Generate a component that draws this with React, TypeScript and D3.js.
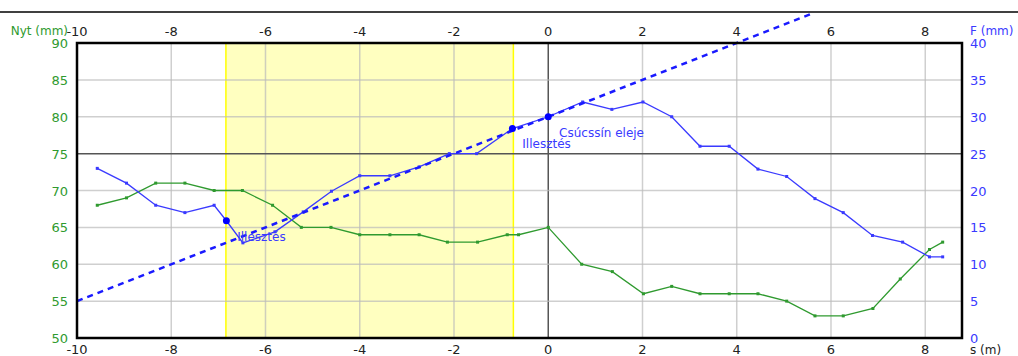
import React, { useEffect, useRef } from 'react';
import * as d3 from 'd3';

// measured positions (s, m) and readings
const greenS = [-9.57, -8.95, -8.33, -7.71, -7.09, -6.49, -5.85, -5.24, -4.61, -4.0, -3.36, -2.74, -2.14, -1.5, -0.87, -0.63, 0, 0.71, 1.36, 2.02, 2.62, 3.22, 3.84, 4.45, 5.06, 5.66, 6.26, 6.89, 7.47, 8.09, 8.37];
const greenNyt = [68, 69, 71, 71, 70, 70, 68, 65, 65, 64, 64, 64, 63, 63, 64, 64, 65, 60, 59, 56, 57, 56, 56, 56, 55, 53, 53, 54, 58, 62, 63];

const blueS = [-9.57, -8.95, -8.33, -7.71, -7.09, -6.83, -6.48, -5.8, -5.2, -4.6, -4.0, -3.36, -2.74, -2.1, -1.52, -0.76, 0, 0.73, 1.35, 2.01, 2.62, 3.22, 3.84, 4.45, 5.06, 5.66, 6.26, 6.88, 7.52, 8.09, 8.37];
const blueF = [23, 21, 18, 17, 18, 15.9, 12.9, 14.4, 17.1, 19.9, 22, 22, 23.2, 25, 25, 28.4, 30, 32, 31, 32, 30, 26, 26, 22.9, 21.9, 18.9, 17, 13.9, 13, 11, 11];

// big dots (fit points)
const fitS = [-6.83, -0.76, 0];
const fitF = [15.9, 28.4, 30];

// dashed fitted line end points
const fitLineS = [-10, 5.6];
const fitLineF = [5, 44];

// yellow band
const bandS = [-6.84, -0.74];

const xTicks = [-10, -8, -6, -4, -2, 0, 2, 4, 6, 8];
const leftTicks = [50, 55, 60, 65, 70, 75, 80, 85, 90];
const rightTicks = [0, 5, 10, 15, 20, 25, 30, 35, 40];

const labels = [
  { s: -6.6, f: 13.15, text: 'Illesztés' },
  { s: -0.55, f: 25.8, text: 'Illesztés' },
  { s: 0.23, f: 27.3, text: 'Csúcssín eleje' },
];

const GREEN = '#2f9a2f';
const BLUE = '#3a3aff';

const App = () => {
  const ref = useRef<SVGSVGElement | null>(null);

  useEffect(() => {
    document.body.style.margin = '0';
    const svg = d3.select(ref.current);
    svg.selectAll('*').remove();

    const x = d3.scaleLinear().domain([-10, 8.78]).range([77, 962]);
    const yL = d3.scaleLinear().domain([50, 90]).range([338, 43]);
    const yR = d3.scaleLinear().domain([0, 40]).range([338, 43]);
    const font = '"DejaVu Sans", Verdana, sans-serif';

    // top rule
    svg.append('line').attr('x1', 0).attr('x2', 1018).attr('y1', 12).attr('y2', 12)
      .attr('stroke', '#000').attr('stroke-width', 1.5);

    // yellow band
    svg.append('rect')
      .attr('x', x(bandS[0])).attr('y', 43)
      .attr('width', x(bandS[1]) - x(bandS[0])).attr('height', 295)
      .attr('fill', '#ffffc0');
    bandS.forEach(s => {
      svg.append('line').attr('x1', x(s)).attr('x2', x(s)).attr('y1', 43).attr('y2', 338)
        .attr('stroke', '#ffff00').attr('stroke-width', 1.5);
    });

    // grid
    xTicks.slice(1).forEach(t => {
      svg.append('line').attr('x1', x(t)).attr('x2', x(t)).attr('y1', 43).attr('y2', 338)
        .attr('stroke', t === 0 ? '#555' : '#bbb').attr('stroke-opacity', t === 0 ? 1 : 0.7)
        .attr('stroke-width', 1.5);
    });
    leftTicks.slice(1, -1).forEach(t => {
      svg.append('line').attr('x1', 77).attr('x2', 962).attr('y1', yL(t)).attr('y2', yL(t))
        .attr('stroke', t === 75 ? '#555' : '#bbb').attr('stroke-opacity', t === 75 ? 1 : 0.7)
        .attr('stroke-width', 1.5);
    });

    // tick labels
    const tx = svg.append('g').attr('font-family', font).attr('font-size', 13).attr('fill', '#222');
    xTicks.forEach(t => {
      tx.append('text').attr('x', x(t)).attr('y', 36).attr('text-anchor', 'middle').text(t);
      tx.append('text').attr('x', x(t)).attr('y', 354).attr('text-anchor', 'middle').text(t);
    });
    const tl = svg.append('g').attr('font-family', font).attr('font-size', 13).attr('fill', GREEN);
    leftTicks.forEach(t => {
      tl.append('text').attr('x', 68).attr('y', yL(t) + 5).attr('text-anchor', 'end').text(t);
    });
    tl.append('text').attr('x', 68).attr('y', 35).attr('text-anchor', 'end').attr('font-size', 12).text('Nyt (mm)');
    const tr = svg.append('g').attr('font-family', font).attr('font-size', 13).attr('fill', BLUE);
    rightTicks.forEach(t => {
      tr.append('text').attr('x', 970).attr('y', yR(t) + 5).text(t);
    });
    tr.append('text').attr('x', 970).attr('y', 35).attr('font-size', 12).text('F (mm)');
    svg.append('text').attr('x', 970).attr('y', 354).attr('font-family', font).attr('font-size', 12)
      .attr('fill', '#222').text('s (m)');

    // green series
    const gData = greenS.map((s, i) => [s, greenNyt[i]] as [number, number]);
    svg.append('path').datum(gData)
      .attr('d', d3.line<[number, number]>().x(d => x(d[0])).y(d => yL(d[1])))
      .attr('fill', 'none').attr('stroke', GREEN).attr('stroke-width', 1.3);
    svg.append('g').selectAll('rect').data(gData).enter().append('rect')
      .attr('x', d => x(d[0]) - 1.5).attr('y', d => yL(d[1]) - 1.5)
      .attr('width', 3).attr('height', 3).attr('fill', GREEN);

    // blue series
    const bData = blueS.map((s, i) => [s, blueF[i]] as [number, number]);
    svg.append('path').datum(bData)
      .attr('d', d3.line<[number, number]>().x(d => x(d[0])).y(d => yR(d[1])))
      .attr('fill', 'none').attr('stroke', BLUE).attr('stroke-width', 1.3);
    svg.append('g').selectAll('rect').data(bData).enter().append('rect')
      .attr('x', d => x(d[0]) - 1.5).attr('y', d => yR(d[1]) - 1.5)
      .attr('width', 3).attr('height', 3).attr('fill', BLUE);

    // dashed fit line
    svg.append('line')
      .attr('x1', x(fitLineS[0])).attr('y1', yR(fitLineF[0]))
      .attr('x2', x(fitLineS[1])).attr('y2', yR(fitLineF[1]))
      .attr('stroke', '#1a1aff').attr('stroke-width', 2.5).attr('stroke-dasharray', '6,5');

    // fit points
    fitS.forEach((s, i) => {
      svg.append('circle').attr('cx', x(s)).attr('cy', yR(fitF[i])).attr('r', 3.5).attr('fill', '#0000ff');
    });

    // annotations
    labels.forEach(l => {
      svg.append('text').attr('x', x(l.s)).attr('y', yR(l.f)).attr('font-family', font)
        .attr('font-size', 12).attr('fill', BLUE).text(l.text);
    });

    // frame
    svg.append('rect').attr('x', 77).attr('y', 43).attr('width', 885).attr('height', 295)
      .attr('fill', 'none').attr('stroke', '#000').attr('stroke-width', 2.5);
  }, []);

  return <svg ref={ref} width={1018} height={356} style={{ display: 'block', background: '#fff' }} />;
};

export default App;
